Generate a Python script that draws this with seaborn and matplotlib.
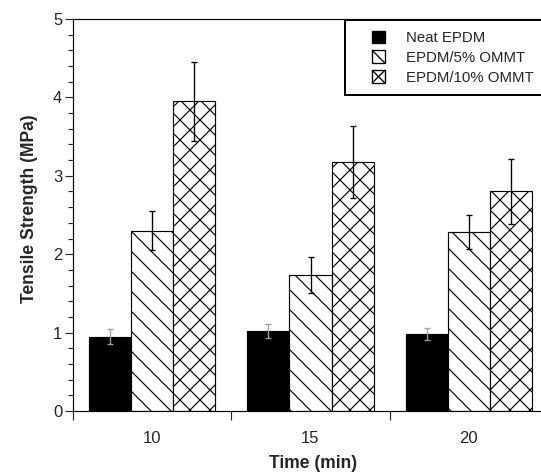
import numpy as np
import pandas as pd
import matplotlib
matplotlib.use("Agg")
import matplotlib.pyplot as plt
from matplotlib.patches import Patch, Rectangle
from matplotlib.lines import Line2D
from matplotlib.legend_handler import HandlerBase
from matplotlib.ticker import MultipleLocator
from matplotlib.container import BarContainer
import seaborn as sns

times = ["10", "15", "20"]
series = ["Neat EPDM", "EPDM/5% OMMT", "EPDM/10% OMMT"]
neat = [0.95, 1.02, 0.98]
ommt5 = [2.30, 1.73, 2.28]
ommt10 = [3.95, 3.18, 2.80]
neat_err = [0.10, 0.09, 0.08]
ommt5_err = [0.25, 0.23, 0.22]
ommt10_err = [0.50, 0.46, 0.41]

values = [neat, ommt5, ommt10]
errors = [neat_err, ommt5_err, ommt10_err]
hatches = ["", "\\\\", "xx"]
faces = ["black", "white", "white"]
err_colors = ["#a0a0a0", "black", "black"]

rows = []
for s, vals in zip(series, values):
    for t, v in zip(times, vals):
        rows.append({"Time": t, "Series": s, "Value": v})
df = pd.DataFrame(rows)

sns.set_style("ticks")
plt.rcParams["font.family"] = ["Liberation Sans", "DejaVu Sans"]
plt.rcParams["hatch.linewidth"] = 0.7

DPI = 120
W, H = 541, 474
fig = plt.figure(figsize=(W / DPI, H / DPI), dpi=DPI)
ax = fig.add_axes([73 / W, (H - 411) / H, 475 / W, 392 / H])

sns.barplot(data=df, x="Time", y="Value", hue="Series", hue_order=series,
            order=times, palette=faces, errorbar=None, width=0.8,
            edgecolor="black", linewidth=0.7, ax=ax, legend=False)

bar_conts = [c for c in ax.containers if isinstance(c, BarContainer)]
for i, cont in enumerate(bar_conts):
    for j, p in enumerate(cont.patches):
        p.set_hatch(hatches[i])
        p.set_facecolor(faces[i])
        p.set_edgecolor("black")
        cx = p.get_x() + p.get_width() / 2
        ax.errorbar(cx, values[i][j], yerr=errors[i][j], fmt="none",
                    ecolor=err_colors[i], elinewidth=0.8, capsize=2,
                    capthick=0.8, zorder=5)

ax.set_xlim(-0.5, 2.5)
ax.set_ylim(0, 5)
ax.yaxis.set_major_locator(MultipleLocator(1))
ax.yaxis.set_minor_locator(MultipleLocator(0.2))
ax.set_xticks([-0.5, 0.5, 1.5, 2.5])
ax.set_xticklabels([])
ax.set_xticks([0, 1, 2], minor=True)
ax.set_xticklabels(times, minor=True)
ax.tick_params(axis="x", which="major", length=5.5, width=0.7, direction="out")
ax.tick_params(axis="x", which="minor", length=0, pad=12, labelsize=10)
ax.tick_params(axis="y", which="major", length=5, width=0.7, labelsize=10, pad=1.5)
ax.tick_params(axis="y", which="minor", length=3, width=0.7)

for sp in ["left", "bottom", "top"]:
    ax.spines[sp].set_visible(True)
    ax.spines[sp].set_linewidth(0.7)
    ax.spines[sp].set_color("black")
ax.spines["right"].set_visible(False)

ax.set_xlabel("Time (min)", fontsize=10.5, fontweight="bold")
ax.set_ylabel("Tensile Strength (MPa)", fontsize=10.5, fontweight="bold")
ax.xaxis.set_label_coords(0.505, -0.113)
ax.yaxis.set_label_coords(-0.074, 0.515)


class SquareHandler(HandlerBase):
    def __init__(self, kind):
        super().__init__()
        self.kind = kind

    def create_artists(self, legend, orig_handle, xdescent, ydescent,
                       width, height, fontsize, trans):
        s = height
        x0 = -xdescent + width - s
        y0 = -ydescent
        fc = "black" if self.kind == 0 else "white"
        arts = [Rectangle((x0, y0), s, s, facecolor=fc, edgecolor="black",
                          linewidth=0.8, transform=trans)]
        if self.kind >= 1:
            arts.append(Line2D([x0, x0 + s], [y0 + s, y0], color="black",
                               linewidth=0.8, transform=trans))
        if self.kind == 2:
            arts.append(Line2D([x0, x0 + s], [y0, y0 + s], color="black",
                               linewidth=0.8, transform=trans))
        return arts


handles = [Patch(facecolor="black", edgecolor="black"),
           Patch(facecolor="white", edgecolor="black", hatch="\\"),
           Patch(facecolor="white", edgecolor="black", hatch="x")]
hm = {h: SquareHandler(k) for k, h in enumerate(handles)}
leg = fig.legend(handles, series, loc="upper left", handler_map=hm,
                 bbox_to_anchor=(345 / W, 0, 240 / W, 1 - 20 / H),
                 mode="expand", borderaxespad=0,
                 fontsize=9.0, frameon=True, fancybox=False,
                 handlelength=1.95, handleheight=0.9, handletextpad=1.4,
                 borderpad=0.7, labelspacing=0.37)
leg.get_frame().set_edgecolor("black")
leg.get_frame().set_linewidth(1.2)
leg.get_frame().set_alpha(1)

fig.savefig("out.png", dpi=DPI)
